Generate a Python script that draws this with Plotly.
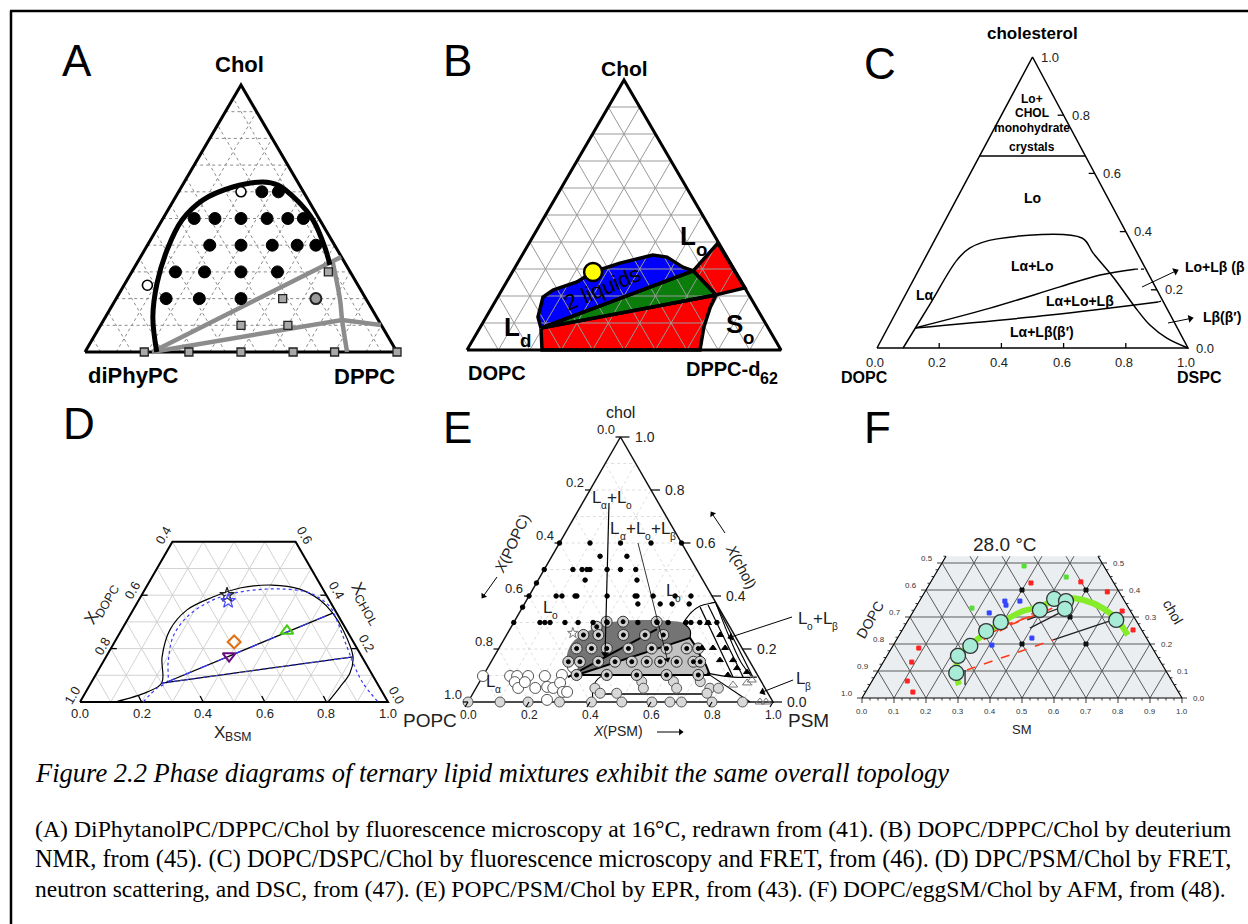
import math
import numpy as np
import plotly.graph_objects as go

SANS = "Liberation Sans, Arial, sans-serif"
SERIF = "Liberation Serif, Times New Roman, serif"

# ======================= DATA =======================
# ---- Panel A: diPhyPC / DPPC / Chol (chol fraction, DPPC/(DPPC+diPhyPC) ratio)
A_FILLED_CHOL = [0.6, 0.6, 0.5, 0.5, 0.5, 0.5, 0.5, 0.5, 0.4, 0.4, 0.4, 0.4, 0.4,
                 0.3, 0.3, 0.3, 0.3, 0.2, 0.2, 0.2]
A_FILLED_RATIO = [0.667, 0.8, 0.2, 0.333, 0.5, 0.667, 0.8, 0.9, 0.333, 0.5, 0.667, 0.8, 0.9,
                  0.2, 0.333, 0.5, 0.667, 0.2, 0.333, 0.5]
A_OPEN_CHOL = [0.6, 0.25]
A_OPEN_RATIO = [0.5, 0.1]
A_GRAYDOT_CHOL = [0.2]
A_GRAYDOT_RATIO = [0.8]
A_SQUARE_CHOL = [0.3, 0.2, 0.1, 0.1, 0.0, 0.0, 0.0, 0.0, 0.0, 0.0]
A_SQUARE_RATIO = [0.9, 0.667, 0.5, 0.667, 0.19, 0.333, 0.5, 0.667, 0.8, 1.0]
# boundary curves as (chol, DPPC) mole fractions
A_BOUND_CHOL = [0.0, 0.131, 0.258, 0.382, 0.494, 0.569, 0.618, 0.637, 0.625, 0.569, 0.494, 0.393, 0.326]
A_BOUND_DPPC = [0.23, 0.152, 0.102, 0.072, 0.064, 0.093, 0.165, 0.252, 0.306, 0.394, 0.484, 0.572, 0.622]
A_TIE1_CHOL = [0.0, 0.356]
A_TIE1_DPPC = [0.215, 0.643]
A_TIE2_CHOL = [0.0, 0.12, 0.101]
A_TIE2_DPPC = [0.215, 0.764, 0.898]
A_SOLID_CHOL = [0.333, 0.195, 0.12, 0.0]
A_SOLID_DPPC = [0.628, 0.72, 0.764, 0.84]

# ---- Panel B: DOPC / DPPC-d62 / Chol (chol, DPPC)
B_BLUE_CHOL = [0.081, 0.122, 0.196, 0.222, 0.252, 0.289, 0.322, 0.352, 0.344, 0.307, 0.293]
B_BLUE_DPPC = [0.195, 0.165, 0.144, 0.163, 0.224, 0.257, 0.326, 0.416, 0.465, 0.534, 0.574]
B_GREEN_CHOL = [0.081, 0.293, 0.204]
B_GREEN_DPPC = [0.195, 0.574, 0.691]
B_REDUP_CHOL = [0.293, 0.396, 0.230, 0.204]
B_REDUP_DPPC = [0.574, 0.601, 0.770, 0.691]
B_REDLOW_CHOL = [0.081, 0.204, 0.156, 0.085, 0.0, 0.0]
B_REDLOW_DPPC = [0.195, 0.691, 0.696, 0.712, 0.742, 0.239]
B_YELLOW_CHOL = [0.289]
B_YELLOW_DPPC = [0.257]

# ---- Panel C: DOPC / DSPC / cholesterol (chol, DSPC)
C_OUTER_CHOL = [0.0, 0.151, 0.302, 0.344, 0.375, 0.378, 0.326, 0.244, 0.131, 0.079, 0.034, 0.0]
C_OUTER_DSPC = [0.084, 0.095, 0.106, 0.127, 0.199, 0.470, 0.532, 0.637, 0.771, 0.838, 0.915, 1.0]
C_TIE1_CHOL = [0.069, 0.137, 0.210, 0.251, 0.271]
C_TIE1_DSPC = [0.088, 0.295, 0.483, 0.592, 0.694]
C_TIE1_EXT_CHOL = [0.271, 0.271]
C_TIE1_EXT_DSPC = [0.694, 0.725]
C_TIE2_CHOL = [0.069, 0.113, 0.158]
C_TIE2_DSPC = [0.088, 0.50, 0.825]
C_TIE2_EXT_CHOL = [0.158, 0.162]
C_TIE2_EXT_DSPC = [0.825, 0.836]
C_CRYSTAL_CHOL = 0.66
C_TICKS = [0.0, 0.2, 0.4, 0.6, 0.8, 1.0]

# ---- Panel D: DOPC / BSM / Chol (chol, BSM)
D_OUTER_CHOL = [0.0, 0.037, 0.071, 0.169, 0.270, 0.345, 0.393, 0.427, 0.438, 0.423, 0.382,
                0.333, 0.270, 0.169, 0.109, 0.056, 0.0]
D_OUTER_BSM = [0.114, 0.199, 0.230, 0.182, 0.157, 0.175, 0.235, 0.306, 0.404, 0.502, 0.588,
               0.654, 0.719, 0.802, 0.822, 0.816, 0.805]
D_DOTTED_CHOL = [0.0, 0.052, 0.075, 0.146, 0.243, 0.318, 0.371, 0.401, 0.419, 0.423, 0.408,
                 0.356, 0.307, 0.206, 0.131, 0.071, 0.0]
D_DOTTED_BSM = [0.205, 0.224, 0.245, 0.213, 0.180, 0.188, 0.227, 0.277, 0.352, 0.447, 0.543,
                0.634, 0.680, 0.764, 0.827, 0.883, 0.968]
D_TIE1_CHOL = [0.075, 0.333]
D_TIE1_BSM = [0.245, 0.654]
D_TIE2_CHOL = [0.071, 0.169]
D_TIE2_BSM = [0.230, 0.802]
D_SAMPLE_CHOL = [0.401, 0.378, 0.225, 0.172, 0.266]
D_SAMPLE_BSM = [0.277, 0.292, 0.388, 0.398, 0.539]
D_TICKS = [0.0, 0.2, 0.4, 0.6, 0.8, 1.0]

# ---- Panel E: POPC / PSM / chol (chol, PSM)
E_DOT_CHOL = [0.6, 0.6, 0.6, 0.6, 0.6, 0.55, 0.55,
              0.5, 0.5, 0.5, 0.5, 0.5, 0.5, 0.5, 0.5, 0.46, 0.46, 0.449,
              0.4, 0.4, 0.4, 0.4, 0.4, 0.4, 0.4, 0.4, 0.4, 0.4, 0.4,
              0.37, 0.37, 0.37, 0.37, 0.358,
              0.3, 0.3, 0.3, 0.3, 0.3, 0.3, 0.3, 0.3, 0.3, 0.3, 0.3, 0.3, 0.3, 0.3, 0.3, 0.3]
E_DOT_PSM = [0.0, 0.1, 0.2, 0.3, 0.4, 0.158, 0.246,
             0.0, 0.094, 0.124, 0.14, 0.15, 0.206, 0.25, 0.30, 0.154, 0.324, 0.0,
             0.0, 0.089, 0.108, 0.151, 0.157, 0.256, 0.348, 0.354, 0.407, 0.479, 0.531,
             0.372, 0.445, 0.484, 0.54, 0.0,
             0.0, 0.086, 0.102, 0.119, 0.168, 0.211, 0.26, 0.306, 0.407, 0.47, 0.506, 0.565,
             0.581, 0.61, 0.637, 0.666]
E_BULL_CHOL = [0.303, 0.303, 0.303, 0.284,
               0.253, 0.253, 0.253, 0.253, 0.253,
               0.202, 0.202, 0.202, 0.202, 0.202, 0.202, 0.202, 0.202,
               0.152, 0.152, 0.152, 0.152, 0.152, 0.152, 0.152, 0.152, 0.152, 0.152,
               0.102, 0.102, 0.102, 0.102, 0.102]
E_BULL_PSM = [0.303, 0.357, 0.467, 0.28,
              0.252, 0.301, 0.383, 0.454, 0.514,
              0.255, 0.304, 0.354, 0.425, 0.501, 0.55, 0.616, 0.654,
              0.253, 0.291, 0.351, 0.406, 0.461, 0.51, 0.554, 0.608, 0.663, 0.685,
              0.305, 0.404, 0.502, 0.60, 0.704]
E_GRAY_CHOL = [0.077, 0.077, 0.077, 0.052, 0.052, 0.052, 0.052, 0.052, 0.033, 0.033, 0.033,
               0.0, 0.0, 0.0, 0.0, 0.0, 0.0, 0.0, 0.0, 0.0, 0.0, 0.0]
E_GRAY_PSM = [0.531, 0.635, 0.723, 0.39, 0.549, 0.658, 0.767, 0.795, 0.417, 0.471, 0.767,
              0.0, 0.105, 0.197, 0.30, 0.405, 0.504, 0.603, 0.662, 0.70, 0.80, 0.90]
E_OPEN_CHOL = [0.098, 0.098, 0.098, 0.098, 0.098, 0.102, 0.075, 0.053, 0.075, 0.053, 0.057,
               0.053, 0.072, 0.038, 0.038, 0.008, 0.132]
E_OPEN_PSM = [0.0, 0.089, 0.112, 0.148, 0.203, 0.257, 0.116, 0.138, 0.149, 0.194, 0.231,
              0.253, 0.266, 0.292, 0.306, 0.255, 0.278]
E_TRI_CHOL = [0.204, 0.204, 0.204, 0.253, 0.298, 0.158, 0.128, 0.113, 0.158, 0.102]
E_TRI_PSM = [0.665, 0.701, 0.741, 0.70, 0.638, 0.79, 0.818, 0.858, 0.747, 0.801]
E_OTRI_CHOL = [0.064, 0.072, 0.083, 0.0, 0.0]
E_OTRI_PSM = [0.837, 0.879, 0.889, 0.957, 0.977]
E_STAR_CHOL = [0.26]
E_STAR_PSM = [0.214]
E_DARK_CHOL = [0.102, 0.121, 0.177, 0.223, 0.26, 0.291, 0.306, 0.306, 0.298, 0.272, 0.242]
E_DARK_PSM = [0.306, 0.268, 0.236, 0.23, 0.254, 0.288, 0.345, 0.509, 0.556, 0.592, 0.607]
E_LIGHT_CHOL = [0.102, 0.242, 0.215, 0.177, 0.14, 0.102]
E_LIGHT_PSM = [0.306, 0.607, 0.636, 0.672, 0.71, 0.742]
E_TIEA_CHOL = [0.094, 0.275]
E_TIEA_PSM = [0.281, 0.482]
E_LOWCURVE_CHOL = [0.0, 0.057, 0.094, 0.102]
E_LOWCURVE_PSM = [0.41, 0.382, 0.386, 0.405]
E_LOWLINE_CHOL = [0.03, 0.03]
E_LOWLINE_PSM = [0.418, 0.762]
E_LOB_TOP_CHOL = [0.298, 0.34, 0.362, 0.374, 0.377]
E_LOB_TOP_PSM = [0.556, 0.564, 0.58, 0.613, 0.623]
E_LOB_EDGE_CHOL = [0.377, 0.25, 0.15, 0.098]
E_LOB_EDGE_PSM = [0.623, 0.73, 0.82, 0.88]
E_LOB_BOT_CHOL = [0.109, 0.094, 0.094]
E_LOB_BOT_PSM = [0.729, 0.822, 0.9]
E_LAB_CHOL = [0.109, 0.0]
E_LAB_PSM = [0.729, 0.925]
E_TIES_CHOL = [(0.358, 0.094), (0.366, 0.094), (0.37, 0.094)]
E_TIES_PSM = [(0.582, 0.822), (0.604, 0.855), (0.628, 0.887)]
E_TICKS = [0.0, 0.2, 0.4, 0.6, 0.8, 1.0]

# ---- Panel F: DOPC / SM / chol at 28 °C (chol, SM)
F_BOUND_CHOL = [0.048, 0.078, 0.152, 0.196, 0.244, 0.281, 0.322, 0.337, 0.363, 0.37, 0.363,
                0.333, 0.289, 0.233]
F_BOUND_SM = [0.279, 0.258, 0.224, 0.24, 0.269, 0.297, 0.342, 0.387, 0.419, 0.456, 0.51,
              0.586, 0.653, 0.714]
F_AFM_CHOL = [0.093, 0.156, 0.193, 0.248, 0.281, 0.326, 0.367, 0.359, 0.33, 0.289]
F_AFM_SM = [0.248, 0.222, 0.242, 0.264, 0.293, 0.393, 0.417, 0.458, 0.469, 0.65]
F_RED_TIES = [((0.104, 0.276), (0.215, 0.49)), ((0.185, 0.238), (0.333, 0.399)),
              ((0.222, 0.248), (0.341, 0.443)), ((0.248, 0.267), (0.326, 0.425))]
F_BLACK_TIES = [((0.215, 0.49), (0.289, 0.64)), ((0.289, 0.372), (0.337, 0.459)),
                ((0.259, 0.395), (0.322, 0.467)), ((0.104, 0.27), (0.048, 0.298))]
F_RED_CHOL = [0.426, 0.43, 0.393, 0.322, 0.252, 0.185, 0.133, 0.063, 0.022]
F_RED_SM = [0.315, 0.469, 0.57, 0.652, 0.721, 0.085, 0.089, 0.11, 0.148]
F_GREEN_CHOL = [0.489, 0.448, 0.333]
F_GREEN_SM = [0.262, 0.414, 0.177]
F_BLUE_CHOL = [0.359, 0.344, 0.359, 0.315, 0.222, 0.196]
F_BLUE_SM = [0.267, 0.278, 0.314, 0.24, 0.42, 0.308]
F_BLACK_CHOL = [0.4, 0.4, 0.3, 0.2, 0.2]
F_BLACK_SM = [0.3, 0.5, 0.5, 0.4, 0.6]
F_TICKS_BOTTOM = [0.0, 0.1, 0.2, 0.3, 0.4, 0.5, 0.6, 0.7, 0.8, 0.9, 1.0]
F_TICKS_SIDE = [0.0, 0.1, 0.2, 0.3, 0.4, 0.5]
F_TOP_CHOL = 0.525

# ======================= LAYOUT GEOMETRY =======================
GEOM = {
    "A": ((85, 352), (397, 352), (241, 85)),
    "B": ((467, 350), (781, 350), (624, 80)),
    "C": ((877, 348), (1188, 348), (1032.5, 57)),
    "D": ((80, 702), (388, 702), (234, 435)),
    "E": ((468, 702), (773, 702), (620.5, 437)),
    "F": ((862, 698), (1182, 698), (1022, 428)),
}

fig = go.Figure()
ANN = []


def P(panel, a, b):
    (x0, y0), (x1, y1), (x2, y2) = GEOM[panel]
    a = np.asarray(a, float)
    b = np.asarray(b, float)
    c = 1 - a - b
    return c * x0 + b * x1 + a * x2, c * y0 + b * y1 + a * y2


def ratio_to_b(chol, ratio):
    return [(1 - a) * r for a, r in zip(chol, ratio)]


def curve(panel, a, b, color="black", width=1.0, dash="solid", shape="linear",
          fillcolor=None, close=False):
    a = list(a)
    b = list(b)
    if close:
        a.append(a[0])
        b.append(b[0])
    x, y = P(panel, a, b)
    fig.add_trace(go.Scatter(
        x=x, y=y, mode="lines",
        line=dict(color=color, width=width, dash=dash, shape=shape),
        fill="toself" if fillcolor else None, fillcolor=fillcolor,
        hoverinfo="skip"))


def segments(panel, segs, color, width, dash="solid"):
    xs, ys = [], []
    for (a0, b0), (a1, b1) in segs:
        x, y = P(panel, [a0, a1], [b0, b1])
        xs += [x[0], x[1], None]
        ys += [y[0], y[1], None]
    fig.add_trace(go.Scatter(x=xs, y=ys, mode="lines",
                             line=dict(color=color, width=width, dash=dash),
                             hoverinfo="skip"))


def pix_segments(segs, color, width):
    xs, ys = [], []
    for (x0, y0), (x1, y1) in segs:
        xs += [x0, x1, None]
        ys += [y0, y1, None]
    fig.add_trace(go.Scatter(x=xs, y=ys, mode="lines",
                             line=dict(color=color, width=width), hoverinfo="skip"))


def marks(panel, a, b, symbol="circle", size=8, color="black", lcolor=None, lwidth=1.0):
    x, y = P(panel, a, b)
    fig.add_trace(go.Scatter(
        x=x, y=y, mode="markers",
        marker=dict(symbol=symbol, size=size, color=color,
                    line=dict(color=lcolor or color, width=lwidth)),
        hoverinfo="skip"))


def grid(avals, bvals, cvals, amax=1.0):
    s = []
    for a in avals:
        if a < amax - 1e-9:
            s.append(((a, 0), (a, 1 - a)))
    for b in bvals:
        ae = min(amax, 1 - b)
        s.append(((0, b), (ae, b)))
    for c in cvals:
        ae = min(amax, 1 - c)
        s.append(((0, 1 - c), (ae, 1 - c - ae)))
    return s


def T(x, y, text, size=12, color="black", bold=False, italic=False, family=SANS,
      angle=0, xanchor="center", yanchor="middle"):
    font = dict(size=size, color=color, family=family)
    if bold:
        font["weight"] = "bold"
    if italic:
        font["style"] = "italic"
    ANN.append(dict(x=x, y=y, xref="x", yref="y", text=text, showarrow=False,
                    font=font, textangle=angle, xanchor=xanchor, yanchor=yanchor))


# Arial / Liberation Sans advance widths (em) for the glyphs used in composite labels
W_REG = {"L": 0.556, "o": 0.556, "+": 0.584, "α": 0.578, "β": 0.575, "d": 0.556, "S": 0.667,
         "X": 0.667, "D": 0.722, "O": 0.778, "P": 0.667, "C": 0.722, "H": 0.722, "B": 0.667,
         "M": 0.833, "6": 0.556, "2": 0.556, "-": 0.333, "(": 0.333, ")": 0.333, "c": 0.5,
         "h": 0.556, "l": 0.222, " ": 0.278}
W_BOLD = {"L": 0.611, "o": 0.611, "d": 0.611, "S": 0.667, "D": 0.722, "P": 0.667, "C": 0.722,
          "-": 0.333, "6": 0.556, "2": 0.556}


def tw(s, size, bold=False):
    tab = W_BOLD if bold else W_REG
    return sum(tab.get(ch, W_REG.get(ch, 0.6)) for ch in s) * size


def RICH(x, y, parts, size, sub_scale=0.7, drop=0.4, angle=0, bold=False, color="black",
         anchor="center"):
    sizes = [size * (sub_scale if f == "s" else 1.0) for _, f in parts]
    widths = [tw(t, s, bold) for (t, _), s in zip(parts, sizes)]
    total = sum(widths)
    pos = -total / 2 if anchor == "center" else 0.0
    th = math.radians(angle)
    ux, uy = math.cos(th), math.sin(th)
    nx, ny = -math.sin(th), math.cos(th)
    for (t, f), s, w in zip(parts, sizes, widths):
        c = pos + w / 2
        off = drop * size if f == "s" else 0.0
        T(x + ux * c + nx * off, y + uy * c + ny * off, t, s, color=color, bold=bold,
          italic=(f == "i"), angle=angle)
        pos += w


def ARROW(x0, y0, x1, y1, width=1.0, head=7, color="black"):
    dx, dy = x1 - x0, y1 - y0
    L = math.hypot(dx, dy)
    ux, uy = dx / L, dy / L
    ang = math.degrees(math.atan2(dx, -dy))
    hx, hy = x1 - ux * head * 0.4, y1 - uy * head * 0.4
    fig.add_trace(go.Scatter(x=[x0, hx], y=[y0, hy], mode="lines",
                             line=dict(color=color, width=width), hoverinfo="skip"))
    fig.add_trace(go.Scatter(x=[hx], y=[hy], mode="markers",
                             marker=dict(symbol="triangle-up", size=head, angle=ang, color=color,
                                         line=dict(width=0)),
                             hoverinfo="skip"))


steps10 = [round(0.1 * i, 2) for i in range(1, 10)]
steps05 = [round(0.05 + 0.1 * i, 2) for i in range(0, 10)]

# ======================= PANEL A =======================
segments("A", grid(steps10, steps10, steps05), "#8a8a8a", 1, "dot")
curve("A", [0, 0, 1, 0], [0, 1, 0, 0], "black", 3)
curve("A", A_TIE1_CHOL, A_TIE1_DPPC, "#8c8c8c", 4.5)
curve("A", A_TIE2_CHOL, A_TIE2_DPPC, "#8c8c8c", 4.5)
curve("A", A_SOLID_CHOL, A_SOLID_DPPC, "#8c8c8c", 4.5, shape="spline")
curve("A", A_BOUND_CHOL, A_BOUND_DPPC, "black", 5, shape="spline")
marks("A", A_FILLED_CHOL, ratio_to_b(A_FILLED_CHOL, A_FILLED_RATIO), "circle", 12, "black")
marks("A", A_OPEN_CHOL, ratio_to_b(A_OPEN_CHOL, A_OPEN_RATIO), "circle", 10, "white", "black", 1.6)
marks("A", A_GRAYDOT_CHOL, ratio_to_b(A_GRAYDOT_CHOL, A_GRAYDOT_RATIO), "circle", 11, "#9a9a9a", "#222", 2)
marks("A", A_SQUARE_CHOL, ratio_to_b(A_SQUARE_CHOL, A_SQUARE_RATIO), "square", 8, "#a8a8a8", "#222", 1.3)
T(77, 60, "A", 44)
T(239, 64, "Chol", 22, bold=True)
T(133, 375, "diPhyPC", 22, bold=True)
T(364, 376, "DPPC", 22, bold=True)

# ======================= PANEL B =======================
curve("B", B_REDLOW_CHOL, B_REDLOW_DPPC, "rgba(0,0,0,0)", 0, fillcolor="#ff0000", close=True)
curve("B", B_REDUP_CHOL, B_REDUP_DPPC, "rgba(0,0,0,0)", 0, fillcolor="#ff0000", close=True)
curve("B", B_GREEN_CHOL, B_GREEN_DPPC, "rgba(0,0,0,0)", 0, fillcolor="#0a7d0a", close=True)
curve("B", B_BLUE_CHOL, B_BLUE_DPPC, "rgba(0,0,0,0)", 0, fillcolor="#0000ff", close=True)
segments("B", grid(steps10, steps10, steps10), "#9a9a9a", 1)
curve("B", B_REDLOW_CHOL, B_REDLOW_DPPC, "black", 3.5, close=True)
curve("B", B_REDUP_CHOL, B_REDUP_DPPC, "black", 3.5, close=True)
curve("B", B_GREEN_CHOL, B_GREEN_DPPC, "black", 3.5, close=True)
curve("B", B_BLUE_CHOL, B_BLUE_DPPC, "black", 3.5, close=True)
curve("B", [0, 0, 1, 0], [0, 1, 0, 0], "black", 3)
marks("B", B_YELLOW_CHOL, B_YELLOW_DPPC, "circle", 18, "#ffff00", "black", 2.5)
T(457, 60, "B", 44)
T(624, 68, "Chol", 21, bold=True)
T(497, 373, "DOPC", 20, bold=True)
RICH(732, 369, [("DPPC-d", ""), ("62", "s")], 20, sub_scale=0.8, drop=0.45, bold=True)
T(602, 288, "2 liquids", 22, angle=-23)
RICH(694, 236, [("L", ""), ("o", "s")], 26, sub_scale=0.72, drop=0.5, bold=True)
RICH(518, 327, [("L", ""), ("d", "s")], 26, sub_scale=0.72, drop=0.5, bold=True)
RICH(740, 324, [("S", ""), ("o", "s")], 26, sub_scale=0.72, drop=0.5, bold=True)

# ======================= PANEL C =======================
curve("C", [0, 0, 1, 0], [0, 1, 0, 0], "black", 1.5)
curve("C", [C_CRYSTAL_CHOL, C_CRYSTAL_CHOL], [0, 1 - C_CRYSTAL_CHOL], "black", 1.5)
curve("C", C_OUTER_CHOL, C_OUTER_DSPC, "black", 1.5, shape="spline")
curve("C", C_TIE1_CHOL, C_TIE1_DSPC, "black", 1.5, shape="spline")
curve("C", C_TIE1_EXT_CHOL, C_TIE1_EXT_DSPC, "black", 1.2, dash="dot")
curve("C", C_TIE2_CHOL, C_TIE2_DSPC, "black", 1.5, shape="spline")
curve("C", C_TIE2_EXT_CHOL, C_TIE2_EXT_DSPC, "black", 1.2, dash="dot")
tk = []
for v in C_TICKS[1:-1]:
    x, y = P("C", [0], [v])
    tk.append(((x[0], y[0]), (x[0], y[0] - 5)))
    x, y = P("C", [v], [1 - v])
    tk.append(((x[0], y[0]), (x[0] - 6, y[0])))
pix_segments(tk, "black", 1.3)
for v in C_TICKS:
    x, y = P("C", [0], [v])
    T(x[0] - 2, 362, f"{v:.1f}", 13, color="#222")
    x, y = P("C", [v], [1 - v])
    T(x[0] + 6, y[0], f"{v:.1f}", 13, color="#222", xanchor="left")
T(880, 63, "C", 44)
T(1032, 33, "cholesterol", 17, bold=True)
T(864, 377, "DOPC", 16, bold=True)
T(1199, 377, "DSPC", 16, bold=True)
T(1032, 99, "Lo+", 12, bold=True)
T(1032, 113, "CHOL", 12, bold=True)
T(1032, 128, "monohydrate", 12, bold=True)
T(1032, 147, "crystals", 12, bold=True)
T(1032, 198, "Lo", 14, bold=True)
T(1032, 266, "Lα+Lo", 14, bold=True)
T(925, 295, "Lα", 14, bold=True)
T(1080, 301, "Lα+Lo+Lβ", 14, bold=True)
T(1042, 332, "Lα+Lβ(β′)", 14, bold=True)
T(1183, 267, "Lo+Lβ (β", 14, bold=True, xanchor="left")
T(1201, 317, "Lβ(β′)", 14, bold=True, xanchor="left")
ARROW(1142, 287, 1178, 270, 1, 7)
ARROW(1168, 323, 1193, 318, 1, 7)

# ======================= PANEL D =======================
segments("D", grid([0.1, 0.2, 0.3, 0.4, 0.5], steps10, steps10, amax=0.6), "#cdcdcd", 0.9)
curve("D", [0, 0, 0.6, 0.6, 0], [0, 1, 0.4, 0, 0], "black", 2)
curve("D", D_OUTER_CHOL, D_OUTER_BSM, "black", 1.2, shape="spline")
curve("D", D_DOTTED_CHOL, D_DOTTED_BSM, "#3a3aff", 1.2, dash="dot", shape="spline")
curve("D", D_TIE1_CHOL, D_TIE1_BSM, "black", 1.3)
curve("D", D_TIE1_CHOL, D_TIE1_BSM, "#3a3aff", 1.2, dash="dash")
curve("D", D_TIE2_CHOL, D_TIE2_BSM, "black", 1.3)
curve("D", D_TIE2_CHOL, D_TIE2_BSM, "#3a3aff", 1.2, dash="dot")
marks("D", D_SAMPLE_CHOL[:1], D_SAMPLE_BSM[:1], "star-open", 11, "#222", lwidth=1.2)
marks("D", D_SAMPLE_CHOL[1:2], D_SAMPLE_BSM[1:2], "star-open", 11, "#4a4aff", lwidth=1.2)
marks("D", D_SAMPLE_CHOL[2:3], D_SAMPLE_BSM[2:3], "diamond-open", 10, "#e07010", lwidth=2)
marks("D", D_SAMPLE_CHOL[3:4], D_SAMPLE_BSM[3:4], "triangle-down-open", 11, "#6a0a80", lwidth=2)
marks("D", D_SAMPLE_CHOL[4:5], D_SAMPLE_BSM[4:5], "triangle-up-open", 11, "#44cc11", lwidth=2)
tk = []
for v in D_TICKS[1:-1]:
    x, y = P("D", [0], [v])
    tk.append(((x[0], y[0]), (x[0] - 3, y[0] - 6)))
for v in [0.2, 0.4]:
    x, y = P("D", [v], [1 - v])
    tk.append(((x[0], y[0]), (x[0] - 6, y[0])))
    x, y = P("D", [v], [0])
    tk.append(((x[0], y[0]), (x[0] + 6, y[0])))
pix_segments(tk, "black", 1.3)
for v in D_TICKS:
    x, y = P("D", [0], [v])
    T(x[0], 713, f"{v:.1f}", 13, color="#222")
for v, (x, y) in zip([1.0, 0.8, 0.6, 0.4], [(72, 695), (102, 646), (132, 590), (163, 535)]):
    T(x, y, f"{v:.1f}", 13, color="#222", angle=-60)
for v, (x, y) in zip([0.0, 0.2, 0.4, 0.6], [(397, 695), (367, 643), (337, 590), (305, 535)]):
    T(x, y, f"{v:.1f}", 13, color="#222", angle=60)
T(79, 423, "D", 44)
RICH(233, 732, [("X", ""), ("BSM", "s")], 17, sub_scale=0.72, drop=0.3, color="#222")
RICH(100, 603, [("X", ""), ("DOPC", "s")], 17, sub_scale=0.72, drop=0.3, angle=-60, color="#222")
RICH(367, 603, [("X", ""), ("CHOL", "s")], 17, sub_scale=0.72, drop=0.3, angle=60, color="#222")

# ======================= PANEL E =======================
segments("E", grid(steps10, steps10, steps10), "#d4d4d4", 0.8, "dot")
curve("E", E_DARK_CHOL, E_DARK_PSM, "rgba(0,0,0,0)", 0, shape="spline", fillcolor="#747474", close=True)
curve("E", E_LIGHT_CHOL, E_LIGHT_PSM, "rgba(0,0,0,0)", 0, fillcolor="#c2c2c2", close=True)
curve("E", [0, 0, 1, 0], [0, 1, 0, 0], "#111", 1.5)
curve("E", E_LIGHT_CHOL, E_LIGHT_PSM, "black", 2, close=False)
curve("E", [E_LIGHT_CHOL[0], E_LIGHT_CHOL[-1]], [E_LIGHT_PSM[0], E_LIGHT_PSM[-1]], "black", 2)
curve("E", E_TIEA_CHOL, E_TIEA_PSM, "black", 2)
curve("E", E_LOWCURVE_CHOL, E_LOWCURVE_PSM, "black", 1.1, shape="spline")
curve("E", E_LOWLINE_CHOL, E_LOWLINE_PSM, "black", 1.5)
curve("E", E_LOB_TOP_CHOL, E_LOB_TOP_PSM, "black", 1.1, shape="spline")
curve("E", E_LOB_EDGE_CHOL, E_LOB_EDGE_PSM, "black", 1.1, shape="spline")
curve("E", E_LOB_BOT_CHOL, E_LOB_BOT_PSM, "black", 1.1, shape="spline")
curve("E", E_LAB_CHOL, E_LAB_PSM, "black", 1.1)
curve("E", [0.298, 0.272, 0.242], [0.556, 0.592, 0.607], "black", 1.1, shape="spline")
segments("E", [((a0, b0), (a1, b1)) for (a0, a1), (b0, b1) in zip(E_TIES_CHOL, E_TIES_PSM)], "black", 1.2)
marks("E", E_OPEN_CHOL, E_OPEN_PSM, "circle", 11, "white", "#555", 1)
marks("E", E_GRAY_CHOL, E_GRAY_PSM, "circle", 10, "#d8d8d8", "#555", 1)
marks("E", E_BULL_CHOL, E_BULL_PSM, "circle", 11, "#d0d0d0", "#333", 1)
marks("E", E_BULL_CHOL, E_BULL_PSM, "circle", 4, "black")
marks("E", E_DOT_CHOL, E_DOT_PSM, "circle", 4.5, "black")
marks("E", E_TRI_CHOL, E_TRI_PSM, "triangle-up", 6, "black")
marks("E", E_OTRI_CHOL, E_OTRI_PSM, "triangle-up-open", 8, "#777", lwidth=1)
marks("E", E_STAR_CHOL, E_STAR_PSM, "star-open", 8, "#777", lwidth=1)
tk = []
for v in E_TICKS:
    x, y = P("E", [v], [1 - v])
    tk.append(((x[0], y[0]), (x[0] + 9, y[0])))
    x, y = P("E", [1 - v], [0])
    tk.append(((x[0], y[0]), (x[0] - 5, y[0])))
    x, y = P("E", [0], [v])
    tk.append(((x[0], y[0]), (x[0] - 3, y[0] + 5)))
pix_segments(tk, "black", 1.2)
for v in E_TICKS:
    x, y = P("E", [0], [v])
    T(x[0], 715, f"{v:.1f}", 12, color="#222")
    x, y = P("E", [v], [1 - v])
    T(x[0] + 12, y[0], f"{v:.1f}", 14, color="#222", xanchor="left")
    x, y = P("E", [1 - v], [0])
    T(x[0] - 4, y[0] - 8, f"{v:.1f}", 13, color="#222", xanchor="right")
T(457, 427, "E", 44)
T(620, 412, "chol", 16, color="#222")
T(430, 720, "POPC", 19, color="#222")
T(808, 720, "PSM", 19, color="#222")
RICH(618, 731, [("X", "i"), ("(PSM)", "")], 14, color="#222")
RICH(512, 543, [("X", "i"), ("(POPC)", "")], 15, angle=-65, color="#222")
RICH(742, 567, [("X", "i"), ("(chol)", "")], 15, angle=62, color="#222")
ARROW(657, 732, 683, 732, 1, 6)
ARROW(497, 577, 482, 598, 1, 6)
ARROW(725, 533, 711, 512, 1, 6)
ES = dict(sub_scale=0.6, drop=0.5, color="#222")
RICH(612, 497, [("L", ""), ("α", "s"), ("+L", ""), ("o", "s")], 17, **ES)
RICH(643, 528, [("L", ""), ("α", "s"), ("+L", ""), ("o", "s"), ("+L", ""), ("β", "s")], 17, **ES)
RICH(673, 590, [("L", ""), ("o", "s")], 17, **ES)
RICH(550, 607, [("L", ""), ("o", "s")], 17, **ES)
RICH(493, 681, [("L", ""), ("α", "s")], 17, **ES)
RICH(798, 618, [("L", ""), ("o", "s"), ("+L", ""), ("β", "s")], 17, anchor="left", **ES)
RICH(796, 678, [("L", ""), ("β", "s")], 17, anchor="left", **ES)
ARROW(609, 503, 605, 657, 1.2, 7)
ARROW(638, 543, 668, 662, 0.8, 6)
ARROW(792, 617, 728, 638, 1, 7)
ARROW(793, 680, 760, 693, 1, 7)

# ======================= PANEL F =======================
curve("F", [0, 0, F_TOP_CHOL, F_TOP_CHOL], [0, 1, 1 - F_TOP_CHOL, 0], "rgba(0,0,0,0)", 0,
      fillcolor="#eaeef0", close=True)
segments("F", grid([0.1, 0.2, 0.3, 0.4, 0.5], steps10, steps10, amax=F_TOP_CHOL), "#5a5a5a", 1)
curve("F", [F_TOP_CHOL, 0, 0, F_TOP_CHOL], [0, 0, 1, 1 - F_TOP_CHOL], "black", 1.2)
tk = []
for i in range(0, 41):
    v = i / 40
    L = 5 if i % 4 == 0 else 2.5
    x, y = P("F", [0], [v])
    tk.append(((x[0], y[0]), (x[0], y[0] + L)))
for i in range(0, 22):
    v = i / 40
    if v > F_TOP_CHOL:
        continue
    L = 5 if i % 4 == 0 else 2.5
    x, y = P("F", [v], [1 - v])
    tk.append(((x[0], y[0]), (x[0] + L, y[0])))
    x, y = P("F", [v], [0])
    tk.append(((x[0], y[0]), (x[0] - L, y[0])))
pix_segments(tk, "#222", 0.9)
for v in F_TICKS_BOTTOM:
    x, y = P("F", [0], [v])
    T(x[0], 711, f"{v:.1f}", 8, color="#333")
for v in F_TICKS_SIDE:
    x, y = P("F", [v], [1 - v])
    T(x[0] + 9, y[0], f"{v:.1f}", 8, color="#333", xanchor="left")
    x, y = P("F", [v], [0])
    T(x[0] - 7, y[0] - 5, f"{1 - v:.1f}", 8, color="#333", xanchor="right")
xs, ys = [], []
for (p0, p1) in F_RED_TIES:
    x, y = P("F", [p0[0], p1[0]], [p0[1], p1[1]])
    xs += list(x) + [None]
    ys += list(y) + [None]
fig.add_trace(go.Scatter(x=xs, y=ys, mode="lines", line=dict(color="#ff3a1a", width=1.6, dash="dash"),
                         hoverinfo="skip"))
segments("F", F_BLACK_TIES, "#222", 1.3)
curve("F", F_BOUND_CHOL, F_BOUND_SM, "#86ec2a", 6, shape="spline")
marks("F", F_RED_CHOL, F_RED_SM, "square", 4, "#ff2020")
marks("F", F_GREEN_CHOL, F_GREEN_SM, "square", 4, "#55dd33")
marks("F", F_BLUE_CHOL, F_BLUE_SM, "square", 4, "#3344ff")
marks("F", F_BLACK_CHOL, F_BLACK_SM, "square", 4, "#111")
marks("F", F_AFM_CHOL, F_AFM_SM, "circle", 15, "#a8ecd8", "#333", 1.3)
T(877, 427, "F", 44)
T(1005, 544, "28.0 °C", 19, color="#222")
T(1022, 729, "SM", 13, color="#222")
T(870, 620, "DOPC", 14, color="#222", angle=-60)
T(1173, 612, "chol", 14, color="#222", angle=60)

# ======================= FRAME & CAPTION =======================
pix_segments([((10, 11), (1248, 11)), ((11, 11), (11, 924))], "black", 2.5)
T(33, 773, "Figure 2.2 Phase diagrams of ternary lipid mixtures exhibit the same overall topology",
  26.5, italic=True, family=SERIF, xanchor="left")
T(33, 829, "(A) DiPhytanolPC/DPPC/Chol by fluorescence microscopy at 16°C, redrawn from (41). "
           "(B) DOPC/DPPC/Chol by deuterium", 23.75, family=SERIF, xanchor="left")
T(33, 859, "NMR, from (45). (C) DOPC/DSPC/Chol by fluorescence microscopy and FRET, from (46). "
           "(D) DPC/PSM/Chol by FRET,", 24.3, family=SERIF, xanchor="left")
T(33, 889, "neutron scattering, and DSC, from (47). (E) POPC/PSM/Chol by EPR, from (43). "
           "(F) DOPC/eggSM/Chol by AFM, from (48).", 23.5, family=SERIF, xanchor="left")

fig.update_layout(
    width=1248, height=924,
    margin=dict(l=0, r=0, t=0, b=0),
    paper_bgcolor="white", plot_bgcolor="white",
    showlegend=False,
    xaxis=dict(range=[0, 1248], visible=False, fixedrange=True),
    yaxis=dict(range=[924, 0], visible=False, fixedrange=True),
    annotations=ANN,
)
fig.write_html("out.html")
